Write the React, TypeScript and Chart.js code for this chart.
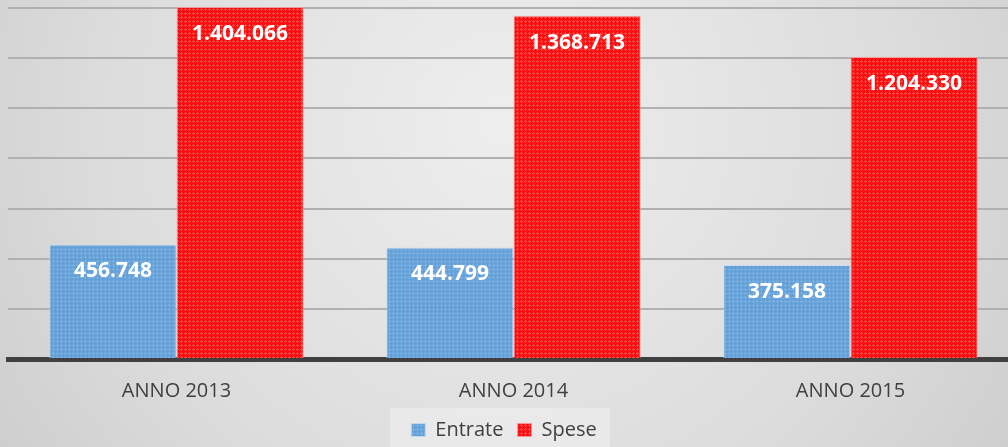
import { useEffect, useRef } from "react";
import { Chart, registerables } from "chart.js";

Chart.register(...registerables);

const categories = ["ANNO 2013", "ANNO 2014", "ANNO 2015"];
const seriesNames = ["Entrate", "Spese"];
const entrate = [456748, 444799, 375158];
const spese = [1404066, 1368713, 1204330];
const yMin = 0;
const yMax = 1400000;
const yStep = 200000;

function fmt(v: number): string {
  return String(Math.round(v)).replace(/\B(?=(\d{3})+(?!\d))/g, ".");
}

function makePattern(base: string, dot: string): CanvasPattern | string {
  const c = document.createElement("canvas");
  c.width = 4;
  c.height = 4;
  const g = c.getContext("2d");
  if (!g) return base;
  g.fillStyle = base;
  g.fillRect(0, 0, 4, 4);
  g.fillStyle = dot;
  g.fillRect(1, 0, 1, 3);
  g.fillRect(0, 1, 3, 1);
  const p = g.createPattern(c, "repeat");
  return p || base;
}

const bgPlugin = {
  id: "bgPlugin",
  afterLayout(chart: any) {
    const lg = chart.legend;
    if (lg) {
      lg.left -= 9.5;
      lg.right -= 9.5;
      lg.top += 3;
      lg.bottom += 3;
    }
  },
  beforeDraw(chart: any) {
    const { ctx, width, height } = chart;
    ctx.save();
    const grad = ctx.createRadialGradient(504, 120, 20, 504, 120, 720);
    grad.addColorStop(0, "#ededed");
    grad.addColorStop(0.55, "#dcdcdc");
    grad.addColorStop(1, "#c6c6c6");
    ctx.fillStyle = grad;
    ctx.fillRect(0, 0, width, height);
    const hb = chart.legend && chart.legend.legendHitBoxes;
    if (hb && hb.length) {
      const first = hb[0];
      const last = hb[hb.length - 1];
      const cy = first.top + first.height / 2;
      const l = first.left - 21;
      const r = last.left + last.width + 13;
      ctx.fillStyle = "rgba(236,236,236,0.75)";
      ctx.fillRect(l, cy - 22, r - l, height - (cy - 22));
    }
    ctx.restore();
  },
};

const labelPlugin = {
  id: "labelPlugin",
  afterDatasetsDraw(chart: any) {
    const { ctx } = chart;
    ctx.save();
    ctx.fillStyle = "#ffffff";
    ctx.font = "bold 21px 'Open Sans'";
    ctx.textAlign = "center";
    ctx.textBaseline = "middle";
    chart.data.datasets.forEach((ds: any, i: number) => {
      const meta = chart.getDatasetMeta(i);
      meta.data.forEach((bar: any, j: number) => {
        ctx.fillText(fmt(ds.data[j]), bar.x, bar.y + 27);
      });
    });
    ctx.restore();
  },
};

export default function App() {
  const ref = useRef<HTMLCanvasElement | null>(null);

  useEffect(() => {
    document.body.style.margin = "0";
    document.body.style.overflow = "hidden";
    const canvas = ref.current;
    if (!canvas) return;
    const blue = makePattern("rgba(91,155,213,0.93)", "rgba(125,178,228,0.93)");
    const red = makePattern("rgba(250,0,0,0.93)", "rgba(255,70,70,0.93)");
    const chart = new Chart(canvas, {
      type: "bar",
      data: {
        labels: categories,
        datasets: [
          {
            label: seriesNames[0],
            data: entrate,
            backgroundColor: blue as any,
            borderColor: "rgba(200,220,240,0.8)",
            borderWidth: 1,
            clip: false as any,
          },
          {
            label: seriesNames[1],
            data: spese,
            backgroundColor: red as any,
            borderColor: "rgba(255,150,150,0.8)",
            borderWidth: 1,
            clip: false as any,
          },
        ],
      },
      options: {
        responsive: false,
        animation: false,
        devicePixelRatio: 1,
        layout: { padding: { left: 8, right: 0, top: 8, bottom: 0 } },
        datasets: {
          bar: { barPercentage: 1, categoryPercentage: 0.755 },
        },
        scales: {
          x: {
            z: 1,
            grid: { display: false, drawTicks: false },
            border: { display: true, color: "#404040", width: 5 },
            ticks: {
              color: "#404040",
              font: { family: "'Open Sans'", size: 20 },
              padding: 20,
            },
            afterFit: (s: any) => {
              s.height = 44;
            },
          },
          y: {
            min: yMin,
            max: yMax,
            ticks: { display: false, stepSize: yStep },
            border: { display: false },
            grid: { color: "#b0b0b0", lineWidth: 2, drawTicks: false },
            afterFit: (s: any) => {
              s.width = 0;
            },
          },
        },
        plugins: {
          legend: {
            position: "bottom",
            maxHeight: 45,
            labels: {
              boxWidth: 14,
              boxHeight: 13,
              padding: 14,
              color: "#404040",
              font: { family: "'Open Sans'", size: 20 },
            },
          },
          tooltip: { enabled: false },
        },
      },
      plugins: [bgPlugin, labelPlugin],
    });
    return () => chart.destroy();
  }, []);

  return (
    <div style={{ position: "absolute", left: 0, top: 0, width: 1008, height: 447, overflow: "hidden" }}>
      <canvas ref={ref} width={1019} height={447} style={{ width: 1019, height: 447, display: "block" }} />
    </div>
  );
}
